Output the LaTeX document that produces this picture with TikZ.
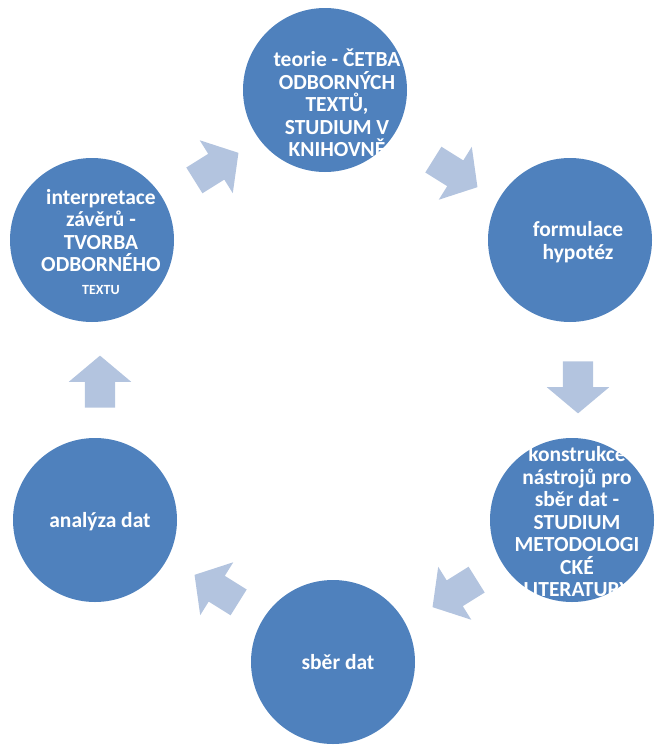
\documentclass[tikz,border=0pt]{standalone}
\usepackage{fontspec}
\setmainfont{Carlito}
\usetikzlibrary{shapes.arrows}
\definecolor{stageblue}{HTML}{4F81BD}
\definecolor{flowblue}{HTML}{B3C4DF}

\begin{document}
\begin{tikzpicture}[x=1pt, y=-1pt,
  stage/.style={circle, fill=stageblue, minimum size=164pt, inner sep=0pt},
  stagetext/.style={text=white, align=center, inner sep=0pt,
    font=\fontsize{21.5}{22.5}\selectfont\bfseries},
  flow/.style={single arrow, fill=flowblue, minimum height=52pt, minimum width=0pt,
    inner xsep=0pt, inner ysep=15pt, single arrow head extend=16pt,
    single arrow tip angle=100}]
\useasboundingbox (0,0) rectangle (660,747);

\node[stage] (teorie) at (325,90) {};
\node[stage] (hypotezy) at (570,240) {};
\node[stage] (nastroje) at (572,520) {};
\node[stage] (sber) at (333,662) {};
\node[stage] (analyza) at (95,520) {};
\node[stage] (zavery) at (92,240) {};

\node[stagetext] (teorie text) at (337,103) {teorie - ČETBA\\ODBORNÝCH\\TEXTŮ,\\STUDIUM V\\KNIHOVNĚ};
\node[stagetext] (hypotezy text) at (578,242) {formulace\\hypotéz};
\node[stagetext] (nastroje text) at (577,522) {konstrukce\\nástrojů pro\\sběr dat -\\STUDIUM\\METODOLOGI\\CKÉ\\LITERATURY};
\node[stagetext] (sber text) at (338,662) {sběr dat};
\node[stagetext] (analyza text) at (100,522) {analýza dat};
\node[stagetext] (zavery text) at (101,242) {interpretace\\závěrů -\\TVORBA\\ODBORNÉHO\\{\fontsize{14}{16}\selectfont TEXTU}};

\node[flow, rotate=32] (f1) at (211,170) {};
\node[flow, rotate=-32] (f2) at (450,170) {};
\node[flow, rotate=-90] (f3) at (578,381) {};
\node[flow, rotate=-148] (f4) at (460,590) {};
\node[flow, rotate=148] (f5) at (222,592) {};
\node[flow, rotate=90] (f6) at (100,388) {};
\end{tikzpicture}
\end{document}
